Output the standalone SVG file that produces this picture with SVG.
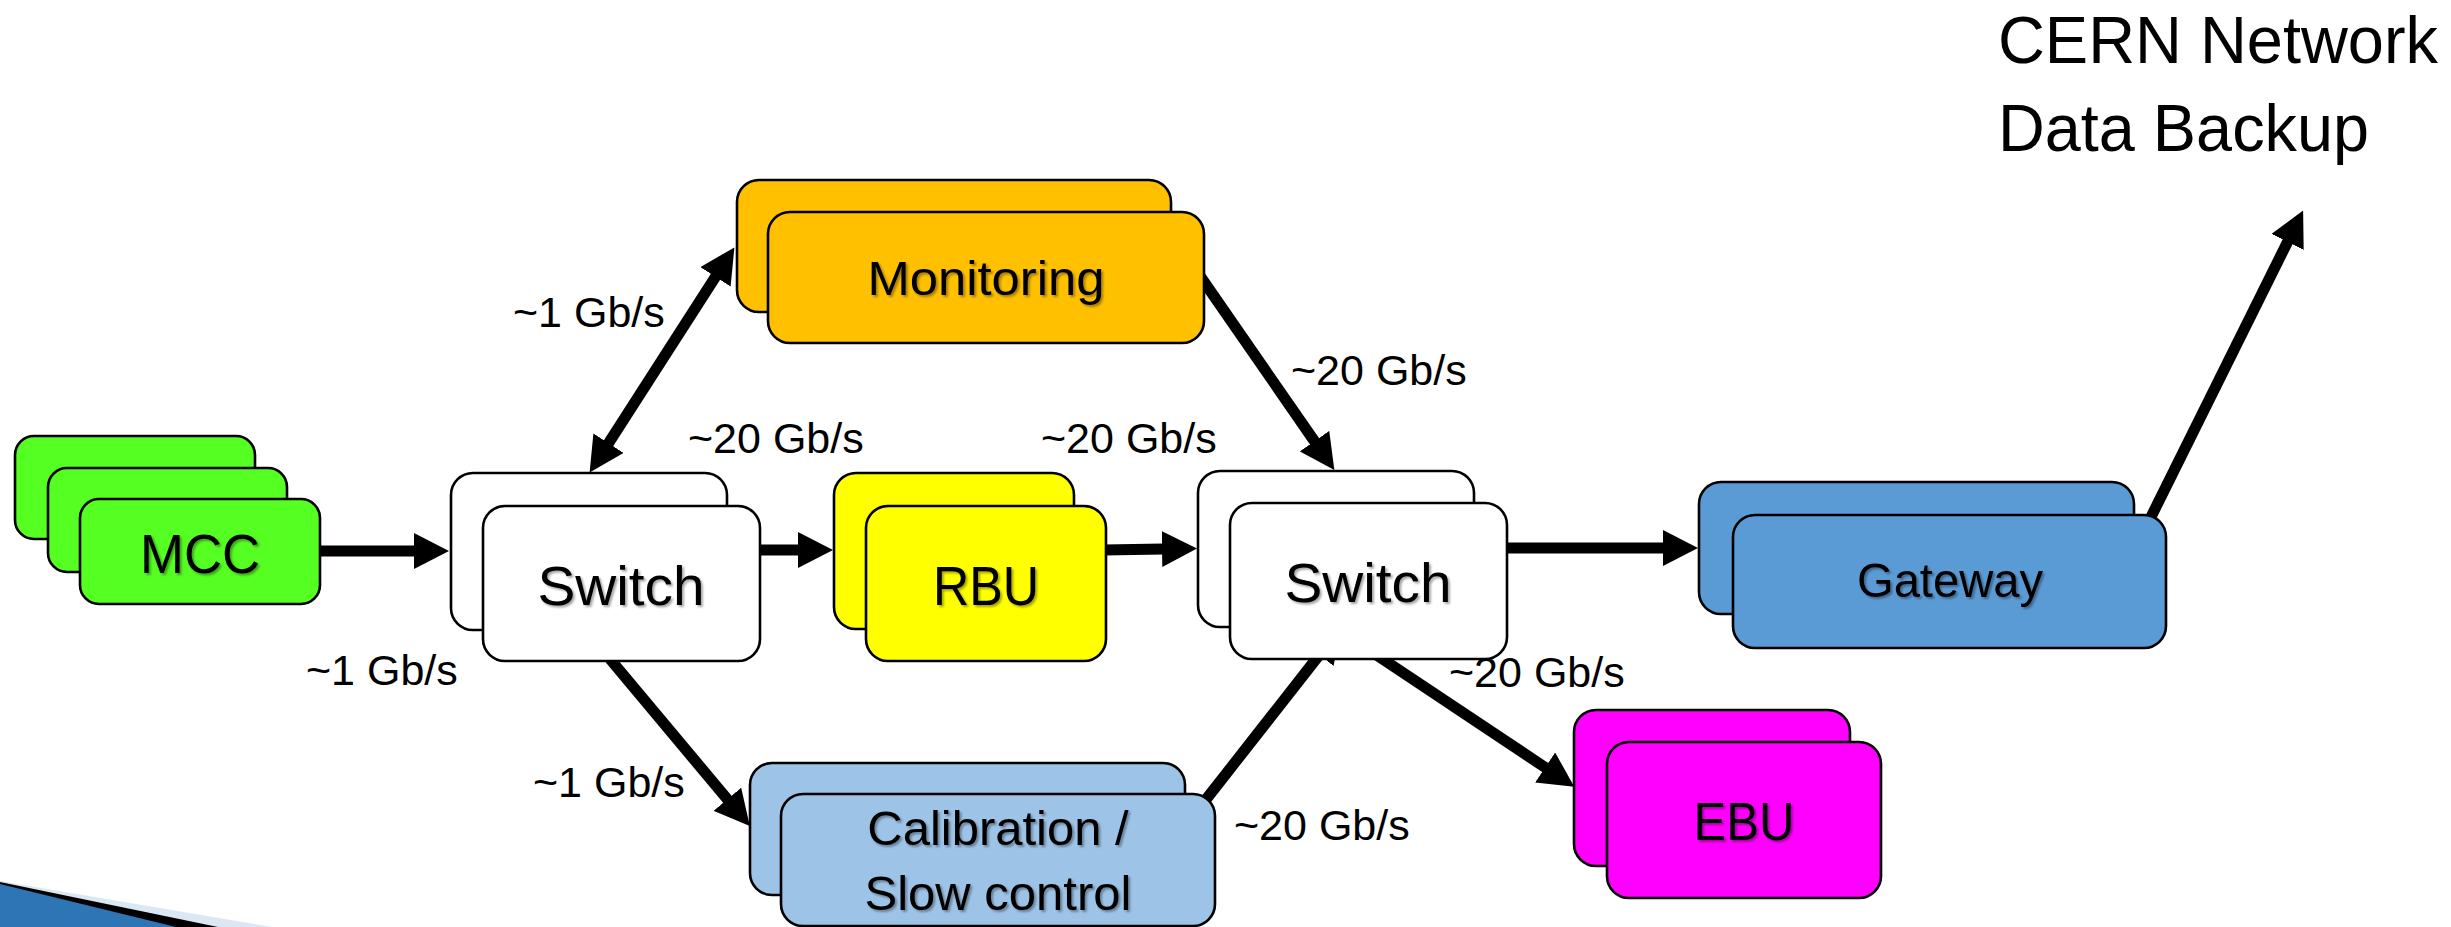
<svg xmlns="http://www.w3.org/2000/svg" width="2451" height="927" viewBox="0 0 2451 927">
  <defs>
    <marker id="head" viewBox="0 0 35 36" refX="1" refY="18" markerWidth="35" markerHeight="36" markerUnits="userSpaceOnUse" orient="auto-start-reverse">
      <path d="M0,0 L35,18 L0,36 Z" fill="#000"/>
    </marker>
    <filter id="shadow" x="-10%" y="-20%" width="130%" height="150%">
      <feDropShadow dx="2" dy="2" stdDeviation="1.2" flood-color="#000" flood-opacity="0.35"/>
    </filter>
  </defs>
  <style>
    .box { stroke: #000; stroke-width: 2.6; }
    .sw { fill: #ffffff; }
    .mcc { fill: #55FF22; }
    .mon { fill: #FFC000; }
    .rbu { fill: #FFFF00; }
    .gw { fill: #5B9BD5; }
    .cal { fill: #9DC3E6; }
    .ebu { fill: #FF00FF; }
    .lbl { font-family: "Liberation Sans", Arial, sans-serif; fill: #000; text-anchor: middle; filter: url(#shadow); }
    .rate { font-family: "Liberation Sans", Arial, sans-serif; font-size: 43px; fill: #000; }
    .big { font-family: "Liberation Sans", Arial, sans-serif; font-size: 66px; fill: #000; }
    .wire { stroke: #000; stroke-width: 11; fill: none; }
    .arrow { marker-end: url(#head); }
    .both { marker-start: url(#head); marker-end: url(#head); }
  </style>
  <rect width="2451" height="927" fill="#ffffff"/>

  <!-- corner swoosh -->
  <g id="swoosh">
    <polygon points="0,881 272,927 0,927" fill="#DCE7F4"/>
    <polygon points="0,882 218,927 0,927" fill="#000"/>
    <polygon points="0,884 176,927 0,927" fill="#2E75B6"/>
  </g>

  <!-- links -->
  <g id="connectors">
    <line class="wire arrow" x1="320" y1="551" x2="415" y2="551"/>
    <line class="wire arrow" x1="758" y1="550" x2="799" y2="550"/>
    <line class="wire arrow" x1="1104" y1="550" x2="1163" y2="549"/>
    <line class="wire arrow" x1="1505" y1="548" x2="1664" y2="548"/>
    <line class="wire both" x1="608" y1="444" x2="716" y2="276"/>
    <line class="wire arrow" x1="1200" y1="276" x2="1315" y2="442"/>
    <line class="wire arrow" x1="610" y1="659" x2="728" y2="800"/>
    <line class="wire arrow" x1="1204" y1="802" x2="1320" y2="654"/>
    <line class="wire arrow" x1="1375" y1="654" x2="1546" y2="768"/>
    <line class="wire arrow" x1="2148" y1="523" x2="2288" y2="241"/>
  </g>

  <g id="mcc">
    <rect class="box mcc" x="15" y="436" width="240" height="103" rx="19"/>
    <rect class="box mcc" x="48" y="468" width="239" height="104" rx="19"/>
    <rect class="box mcc" x="80" y="499" width="240" height="105" rx="19"/>
    <text class="lbl" x="200" y="573" font-size="56" textLength="120" lengthAdjust="spacingAndGlyphs">MCC</text>
  </g>

  <g id="switch1">
    <rect class="box sw" x="451" y="473" width="276" height="157" rx="22"/>
    <rect class="box sw" x="483" y="506" width="277" height="155" rx="22"/>
    <text class="lbl" x="621" y="605" font-size="56" textLength="167" lengthAdjust="spacingAndGlyphs">Switch</text>
  </g>

  <g id="monitoring">
    <rect class="box mon" x="737" y="180" width="434" height="132" rx="22"/>
    <rect class="box mon" x="768" y="212" width="436" height="131" rx="22"/>
    <text class="lbl" x="986" y="295" font-size="49" textLength="237" lengthAdjust="spacingAndGlyphs">Monitoring</text>
  </g>

  <g id="rbu">
    <rect class="box rbu" x="834" y="473" width="240" height="156" rx="22"/>
    <rect class="box rbu" x="866" y="506" width="240" height="155" rx="22"/>
    <text class="lbl" x="986" y="605" font-size="55" textLength="106" lengthAdjust="spacingAndGlyphs">RBU</text>
  </g>

  <g id="switch2">
    <rect class="box sw" x="1198" y="471" width="276" height="156" rx="22"/>
    <rect class="box sw" x="1230" y="503" width="277" height="156" rx="22"/>
    <text class="lbl" x="1368" y="602" font-size="56" textLength="167" lengthAdjust="spacingAndGlyphs">Switch</text>
  </g>

  <g id="gateway">
    <rect class="box gw" x="1699" y="482" width="435" height="132" rx="22"/>
    <rect class="box gw" x="1733" y="515" width="433" height="133" rx="22"/>
    <text class="lbl" x="1950" y="597" font-size="48" textLength="186" lengthAdjust="spacingAndGlyphs">Gateway</text>
  </g>

  <g id="calibration">
    <rect class="box cal" x="750" y="763" width="435" height="132" rx="22"/>
    <rect class="box cal" x="781" y="794" width="434" height="132" rx="22"/>
    <text class="lbl" x="998" y="845" font-size="49">Calibration /</text>
    <text class="lbl" x="998" y="910" font-size="49">Slow control</text>
  </g>

  <g id="ebu">
    <rect class="box ebu" x="1574" y="710" width="276" height="156" rx="22"/>
    <rect class="box ebu" x="1607" y="742" width="274" height="156" rx="22"/>
    <text class="lbl" x="1744" y="840" font-size="53" textLength="101" lengthAdjust="spacingAndGlyphs">EBU</text>
  </g>

  <g id="rates">
    <text class="rate" x="513" y="327">~1 Gb/s</text>
    <text class="rate" x="688" y="453">~20 Gb/s</text>
    <text class="rate" x="1041" y="453">~20 Gb/s</text>
    <text class="rate" x="1291" y="385">~20 Gb/s</text>
    <text class="rate" x="306" y="685">~1 Gb/s</text>
    <text class="rate" x="533" y="797">~1 Gb/s</text>
    <text class="rate" x="1449" y="687">~20 Gb/s</text>
    <text class="rate" x="1234" y="840">~20 Gb/s</text>
  </g>

  <g id="destination">
    <text class="big" x="1998" y="63" textLength="440" lengthAdjust="spacingAndGlyphs">CERN Network</text>
    <text class="big" x="1998" y="151" textLength="371" lengthAdjust="spacingAndGlyphs">Data Backup</text>
  </g>
</svg>
